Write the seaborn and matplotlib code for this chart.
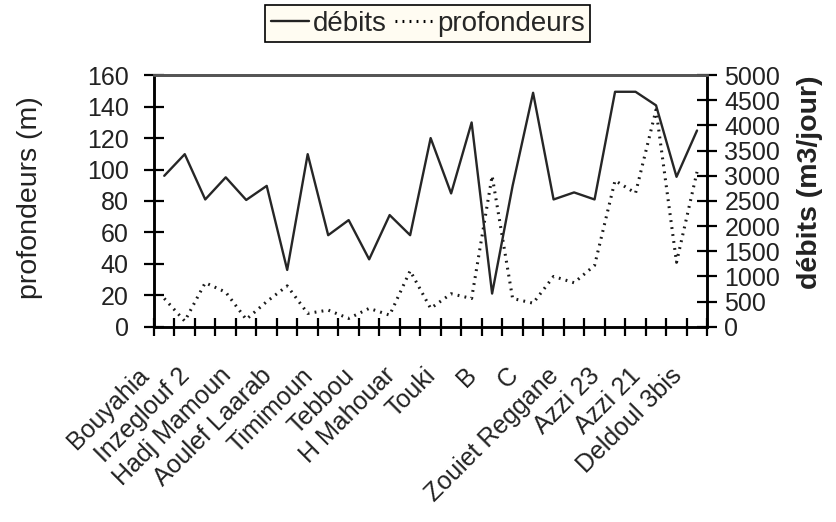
import numpy as np
import pandas as pd
import matplotlib
matplotlib.use("Agg")
import matplotlib.pyplot as plt
from matplotlib.transforms import ScaledTranslation
from matplotlib.lines import Line2D
import seaborn as sns

# ---- data ----
labels = ["Bouyahia", "Inzeglouf 2", "Hadj Mamoun", "Aoulef Laarab", "Timimoun",
          "Tebbou", "H Mahouar", "Touki", "B", "C", "Zouiet Reggane",
          "Azzi 23", "Azzi 21", "Deldoul 3bis"]
debits = [3000, 3430, 2530, 2970, 2520, 2800, 1130, 3430, 1820, 2120, 1340, 2220,
          1820, 3750, 2650, 4060, 660, 2800, 4650, 2530, 2670, 2530, 4670, 4670,
          4400, 2980, 3900]
profondeurs = [18, 3.6, 28, 22, 4.7, 16, 26, 8.5, 10.6, 5.3, 11.7, 7.4, 35.6,
               11.7, 21, 18, 96, 18, 15, 32, 28, 39, 93, 85, 138, 41, 98.5]
left_ticks = [0, 20, 40, 60, 80, 100, 120, 140, 160]
right_ticks = [0, 500, 1000, 1500, 2000, 2500, 3000, 3500, 4000, 4500, 5000]

n = len(debits)
df = pd.DataFrame({"idx": np.arange(n), "debits": debits, "profondeurs": profondeurs})

sns.set_theme(style="white")
plt.rcParams["font.family"] = ["Liberation Sans", "DejaVu Sans"]
FS = 18
TXT = "#222222"

fig = plt.figure(figsize=(8.37, 5.22), dpi=100)
ax = fig.add_axes([0.184, 0.374, 0.661, 0.482])
ax2 = ax.twinx()

sns.lineplot(data=df, x="idx", y="profondeurs", ax=ax, color="#1a1a1a",
             linewidth=2.2, linestyle=(0, (0.6, 1.7)), legend=False)
sns.lineplot(data=df, x="idx", y="debits", ax=ax2, color="#262626",
             linewidth=1.7, legend=False)

ax.set_xlim(-0.5, n - 0.5)
ax.set_ylim(0, 160)
ax2.set_ylim(0, 5000)
ax.set_yticks(left_ticks)
ax2.set_yticks(right_ticks)

# x ticks: boundaries as minor ticks, labels every other category
ax.set_xticks(np.arange(0, n, 2))
ax.set_xticklabels(labels, rotation=45, ha="right", va="center",
                   rotation_mode="anchor", fontsize=FS, color=TXT)
ax.set_xticks(np.arange(-0.5, n, 1.0), minor=True)
ax.tick_params(axis="x", which="major", length=0, pad=0)
ax.tick_params(axis="x", which="minor", direction="inout", length=13, width=1.6,
               color="black", bottom=True)
offset = ScaledTranslation(-0.19, -0.45, fig.dpi_scale_trans)
for lab in ax.get_xticklabels():
    lab.set_transform(lab.get_transform() + offset)

ax.tick_params(axis="y", direction="inout", length=14.5, width=1.6, color="black",
               labelsize=FS, labelcolor=TXT, pad=11, left=True)
ax2.tick_params(axis="y", direction="inout", length=14.5, width=1.6, color="black",
                labelsize=FS, labelcolor=TXT, pad=5, right=True)

for a in (ax, ax2):
    for s in ("left", "right", "bottom"):
        a.spines[s].set_color("black")
        a.spines[s].set_linewidth(1.8)
    a.spines["top"].set_color("#555555")
    a.spines["top"].set_linewidth(2.0)
    a.grid(False)

ax.set_xlabel("")
ax.set_ylabel("profondeurs (m)", fontsize=20.5, color=TXT)
ax.yaxis.set_label_coords(-0.224, 0.513)
ax.yaxis.label.set_va("center")
ax2.set_ylabel("débits (m3/jour)", fontsize=20.5, color=TXT, fontweight="bold")
ax2.yaxis.set_label_coords(1.185, 0.575)
ax2.yaxis.label.set_va("center")

handles = [Line2D([], [], color="#222222", linewidth=1.7),
           Line2D([], [], color="black", linewidth=2.2, linestyle=(0, (0.6, 1.7)))]
leg = fig.legend(handles, ["débits", "profondeurs"], loc="upper center",
                 bbox_to_anchor=(0.511, 0.99), ncol=2, frameon=True,
                 fancybox=False, edgecolor="black", facecolor="#fffcf2",
                 fontsize=20, handlelength=1.4, handletextpad=0.12,
                 columnspacing=0.3, borderpad=0.2, borderaxespad=0.0)
leg.get_frame().set_linewidth(1.2)
leg.get_frame().set_alpha(1)

fig.savefig("out.png", dpi=100, facecolor="white")
